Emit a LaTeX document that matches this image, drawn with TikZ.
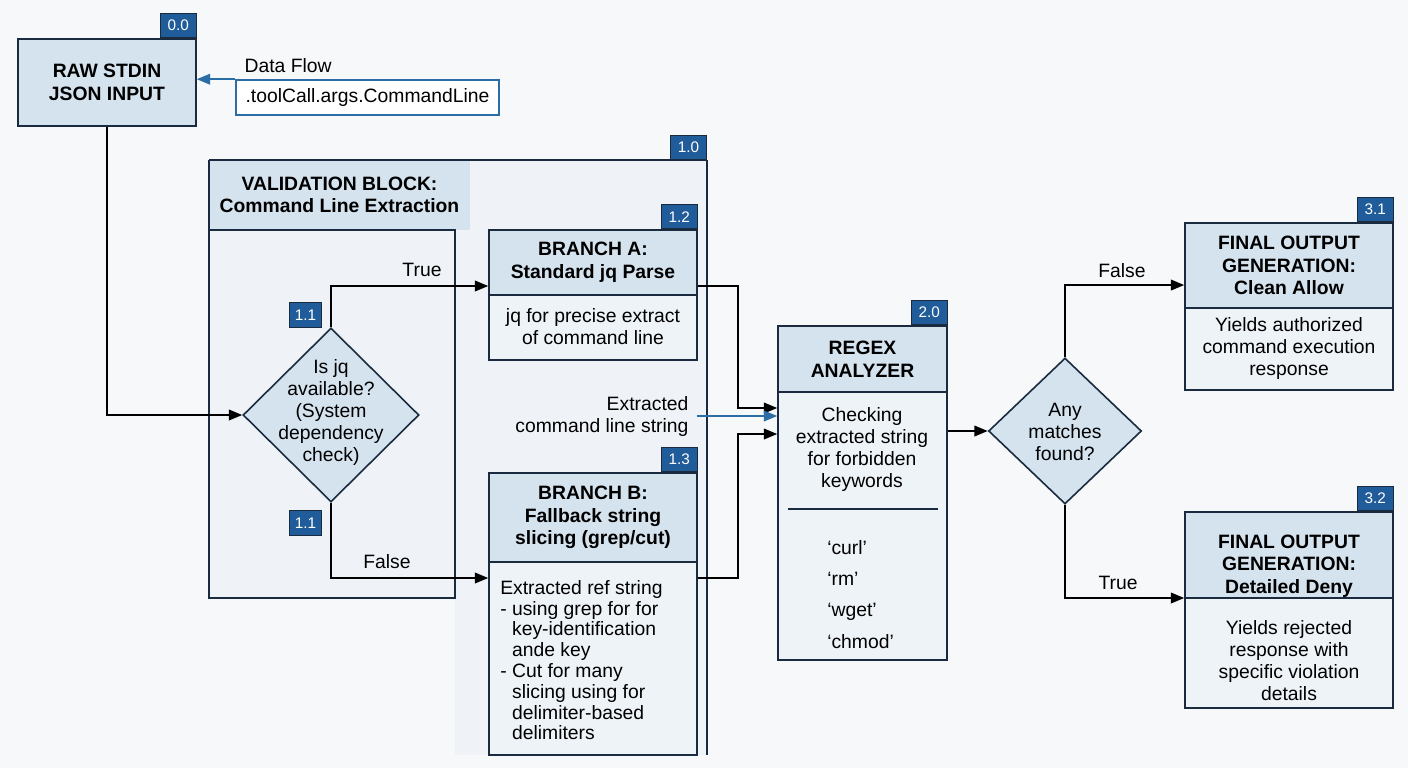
\documentclass[tikz,border=0pt]{standalone}
\usepackage{fontspec}
\setmainfont{Liberation Sans}
\usetikzlibrary{arrows.meta,shapes.geometric}
\definecolor{bgc}{HTML}{F7F8FA}
\definecolor{hdrc}{HTML}{D5E3EF}
\definecolor{bodyc}{HTML}{EEF3F8}
\definecolor{contc}{HTML}{EFF3F7}
\definecolor{edgec}{HTML}{1B2B3F}
\definecolor{tagc}{HTML}{1F5C99}
\definecolor{flowc}{HTML}{2B6EA6}
\begin{document}
\begin{tikzpicture}[x=0.75pt,y=-0.75pt,
  font=\fontsize{14.5}{16.5}\selectfont,
  wh/.style 2 args={minimum width=#1*0.75pt, minimum height=#2*0.75pt},
  box/.style={draw=edgec, line width=1.2pt, fill=bodyc, inner sep=0pt, align=center},
  hdr/.style={draw=edgec, line width=1.2pt, fill=hdrc, inner sep=0pt, align=center, font=\fontsize{14.5}{17}\selectfont\bfseries},
  tag/.style={draw=edgec, line width=0.8pt, fill=tagc, text=white, inner sep=0pt, minimum width=27pt, minimum height=18pt, font=\fontsize{11.5}{12}\selectfont},
  arr/.style={draw=black, line width=1.2pt, -{Triangle[length=10pt,width=8pt]}},
  flowarr/.style={draw=flowc, line width=1.2pt, -{Triangle[length=10pt,width=8pt]}},
  dia/.style={diamond, draw=edgec, line width=1.2pt, fill=hdrc, inner sep=0pt},
  lbl/.style={inner sep=1pt, align=center}]
\fill[bgc] (0,0) rectangle (1408,768);
\useasboundingbox (0,0) rectangle (1408,768);

% ---- 0.0 raw input
\node[hdr, wh={178}{87}] (raw) at (107,82.5) {RAW STDIN\\JSON INPUT};
\node[tag, anchor=south east] (t00) at (raw.north east) {0.0};
\node[lbl, anchor=base west] (dflbl) at (243,72) {Data Flow};
\node[draw=flowc, line width=1.2pt, fill=white, inner sep=0pt, wh={263}{35}] (dfbox) at (367.5,97.5) {.toolCall.args.CommandLine};
\draw[flowarr] (dfbox.north west) -- (raw.east |- dfbox.north west);

% ---- 1.0 validation block container
\fill[contc] (209,160) rectangle (707,598);
\fill[contc] (455,598) rectangle (707,755);
\node[fill=hdrc, inner sep=0pt, align=center, font=\fontsize{14.5}{17}\selectfont\bfseries, wh={261}{70}] (vhdr) at (339.5,195) {VALIDATION BLOCK:\\Command Line Extraction};
\draw[edgec, line width=1.2pt] (209,160) -- (707,160);
\draw[edgec, line width=1.2pt] (707,160) -- (707,755);
\draw[edgec, line width=1.2pt] (209,160) -- (209,598) -- (455,598) -- (455,230) -- (209,230);
\node[tag, anchor=south east] (t10) at (707,160) {1.0};

% ---- 1.1 decision
\node[dia, wh={176}{174}] (d1) at (331,415) {};
\node[lbl] (d1txt) at (331,412) {Is jq\\available?\\(System\\dependency\\check)};
\node[tag, minimum width=24pt, minimum height=19pt, anchor=south east] (t11a) at (322,328) {1.1};
\node[tag, minimum width=24pt, minimum height=19pt, anchor=north east] (t11b) at (322,510) {1.1};

% ---- 1.2 branch A
\node[box, wh={208}{130}] (bA) at (593,295) {};
\node[hdr, wh={208}{65}] (bAh) at (593,262.5) {BRANCH A:\\Standard jq Parse};
\node[lbl] (bAt) at (593,327) {jq for precise extract\\of command line};
\node[tag, anchor=south east] (t12) at (bA.north east) {1.2};

% ---- 1.3 branch B
\node[box, wh={208}{282}] (bB) at (593,614) {};
\node[hdr, wh={208}{89}] (bBh) at (593,517.5) {BRANCH B:\\Fallback string\\slicing (grep/cut)};
\node[inner sep=0pt, anchor=north west, align=left, font=\fontsize{14.5}{15.6}\selectfont] (bBt) at (500,580)
  {Extracted ref string\\- using grep for for\\\phantom{- }key-identification\\\phantom{- }ande key\\- Cut for many\\\phantom{- }slicing using for\\\phantom{- }delimiter-based\\\phantom{- }delimiters};
\node[tag, anchor=south east] (t13) at (bB.north east) {1.3};

% ---- decision arrows
\draw[arr] (raw.south) |- (d1.west);
\draw[arr] (d1.north) |- ([yshift=6.75pt]bA.west);
\node[lbl] (ltrue1) at (422,270) {True};
\draw[arr] (d1.south) |- ([yshift=27pt]bB.west);
\node[lbl] (lfalse1) at (387,562) {False};

% ---- 2.0 regex analyzer
\node[box, wh={169}{334}] (rx) at (862.5,493) {};
\node[hdr, wh={169}{66}] (rxh) at (862.5,359) {REGEX\\ANALYZER};
\node[tag, anchor=south east] (t20) at (rx.north east) {2.0};
\node[lbl] (rxt) at (862,449) {Checking\\extracted string\\for forbidden\\keywords};
\draw[edgec, line width=1.2pt] (788,509) -- (938,509);
\node[inner sep=0pt, anchor=north west, align=left, font=\fontsize{14.5}{23.5}\selectfont] (kw) at (827,540) {`curl'\\`rm'\\`wget'\\`chmod'};

% ---- arrows into regex
\node[lbl, align=right, anchor=east] (ext) at (690,416) {Extracted\\command line string};
\draw[arr] ([yshift=6.75pt]bA.east) -- ++(40,0) |- ([yshift=63.75pt]rx.west);
\draw[flowarr] ([xshift=5pt]ext.east) -- (ext.east -| rx.west);
\draw[arr] ([yshift=27pt]bB.east) -- ++(40,0) |- ([yshift=44.25pt]rx.west);

% ---- decision 2
\node[dia, wh={153}{146}] (d2) at (1065,431) {};
\node[lbl] (d2txt) at (1065,432) {Any\\matches\\found?};
\draw[arr] ([yshift=46.5pt]rx.east) -- (d2.west);

% ---- 3.1 allow
\node[box, wh={208}{167}] (f1) at (1289,306.5) {};
\node[hdr, wh={208}{85}] (f1h) at (1289,265.5) {FINAL OUTPUT\\GENERATION:\\Clean Allow};
\node[lbl] (f1t) at (1289,348) {Yields authorized\\command execution\\response};
\node[tag, anchor=south east] (t31) at (f1.north east) {3.1};

% ---- 3.2 deny
\node[box, wh={208}{196}] (f2) at (1289,610) {};
\node[hdr, wh={208}{86}] (f2h) at (1289,555) {};
\node[lbl, font=\fontsize{14.5}{17}\selectfont\bfseries] (f2ht) at (1289,566) {FINAL OUTPUT\\GENERATION:\\Detailed Deny};
\node[lbl] (f2t) at (1289,661) {Yields rejected\\response with\\specific violation\\details};
\node[tag, anchor=south east] (t32) at (f2.north east) {3.2};

\draw[arr] (d2.north) |- ([yshift=16.1pt]f1.west);
\node[lbl] (lfalse2) at (1122,271) {False};
\draw[arr] (d2.south) |- ([yshift=9pt]f2.west);
\node[lbl] (ltrue2) at (1118,583) {True};
\end{tikzpicture}
\end{document}
